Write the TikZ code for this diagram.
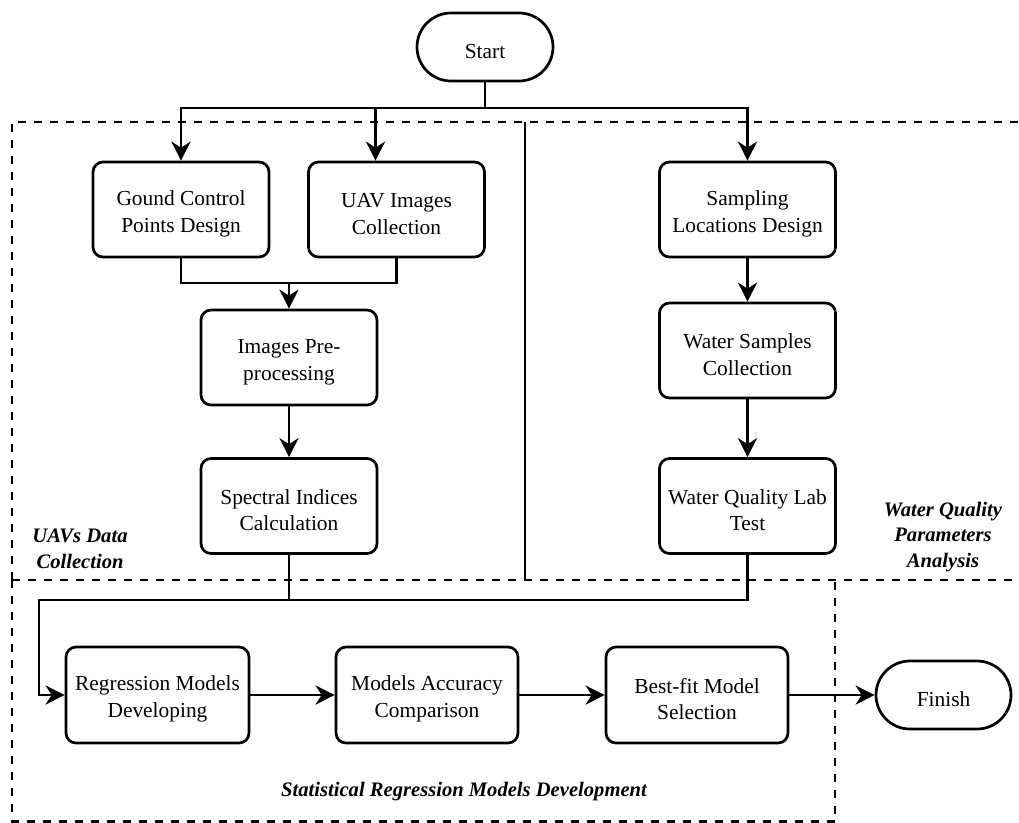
\documentclass[tikz,border=0pt]{standalone}
\usepackage{fontspec}
\setmainfont{Liberation Serif}
\usetikzlibrary{arrows.meta,shapes.misc,calc}
\newcommand{\tup}{\rule{0pt}{23pt}}
\begin{document}
\begin{tikzpicture}[x=1pt,y=-1pt,
  box/.style={draw,rectangle,rounded corners=10pt,line width=2.7pt,align=center,inner sep=0pt,
    minimum width=176pt,minimum height=95pt,font=\fontsize{21.4}{26.7}\selectfont},
  term/.style={draw,rounded rectangle,line width=2.7pt,inner sep=0pt,
    minimum width=136pt,minimum height=68pt,font=\fontsize{21.4}{26.7}\selectfont},
  conn/.style={line width=2.7pt},
  arr/.style={line width=2.7pt,-{Stealth[length=19pt,width=19pt,inset=6pt]}},
  grp/.style={line width=2.6pt,dash pattern=on 8pt off 8pt},
  lbl/.style={align=center,font=\fontsize{20.6}{25.5}\selectfont\bfseries\itshape}]
\useasboundingbox (0,0) rectangle (1019,822);
% groups
\draw[grp] (12,580) -- (12,122) -- (1030,122);
\draw[grp] (12,580) -- (1030,580);
\draw[line width=2pt] (525,122) -- (525,580);
\draw[grp] (12,580) -- (12,821.5) -- (835,821.5) -- (835,580);
% nodes
\node[term] (start) at (485,47) {\tup Start};
\node[box] (gcp) at (181,209.5) {\tup Gound Control\\Points Design};
\node[box] (uav) at (396.5,209.5) {\tup UAV Images\\Collection};
\node[box] (samp) at (747.5,209.5) {\tup Sampling\\Locations Design};
\node[box] (pre) at (289,357.5) {\tup Images Pre-\\processing};
\node[box] (spec) at (289,506) {\tup Spectral Indices\\Calculation};
\node[box] (wsc) at (747.5,350.5) {\tup Water Samples\\Collection};
\node[box] (wql) at (747.5,506) {\tup Water Quality Lab\\Test};
\node[box,minimum width=183pt,minimum height=96pt] (reg) at (157.5,695) {\tup Regression Models\\Developing};
\node[box,minimum width=182pt,minimum height=96pt] (acc) at (427,695) {\tup Models Accuracy\\Comparison};
\node[box,minimum width=182pt,minimum height=96pt] (best) at (697,695) {\tup Best-fit Model\\Selection};
\node[term,minimum width=135pt] (finish) at (943.5,695) {\tup Finish};
% labels
\node[lbl] (l1) at (80,549) {UAVs Data\\Collection};
\node[lbl] (l2) at (943,537) {Water Quality\\Parameters\\Analysis};
\node[lbl] (l3) at (464,792) {Statistical Regression Models Development};
% connectors
\coordinate (j1) at (485,108);
\coordinate (uavin) at ($(uav.north)+(-21,0)$);
\draw[conn] (start.south) -- (j1);
\draw[arr] (j1) -| (gcp.north);
\draw[arr] (j1) -| (samp.north);
\draw[arr] (uavin |- j1) -- (uavin);
\coordinate (j2) at (289,283);
\draw[conn] (gcp.south) |- (j2);
\draw[conn] (uav.south) |- (j2);
\draw[arr] (j2) -- (pre.north);
\draw[arr] (pre) -- (spec);
\draw[arr] (samp) -- (wsc);
\draw[arr] (wsc) -- (wql);
\coordinate (j3) at (289,600);
\coordinate (c4) at (39,600);
\draw[conn] (spec.south) -- (j3);
\draw[conn] (wql.south) |- (j3);
\draw[arr] (j3) -- (c4) |- (reg.west);
\draw[arr] (reg) -- (acc);
\draw[arr] (acc) -- (best);
\draw[arr] (best) -- (finish);
\end{tikzpicture}
\end{document}
